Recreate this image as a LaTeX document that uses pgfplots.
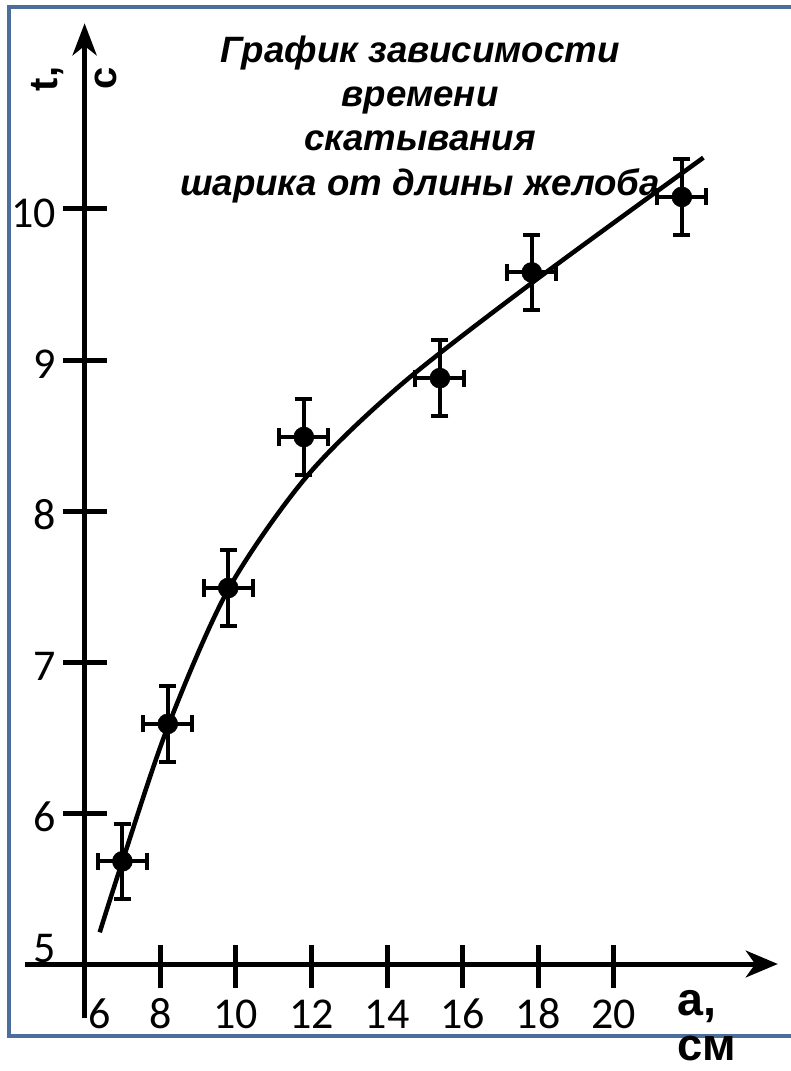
\documentclass[border=0pt]{standalone}
\usepackage{fontspec}
\setmainfont{Liberation Sans}
\newfontfamily\calib{Carlito}
\usepackage{pgfplots}
\pgfplotsset{compat=1.18}
\usetikzlibrary{arrows.meta}
\definecolor{frameblue}{RGB}{75,110,155}
\begin{document}
\begin{tikzpicture}
\useasboundingbox (0pt,0pt) rectangle (592.5pt,-803.25pt);
\begin{scope}[x=0.75pt,y=-0.75pt]
\draw[frameblue, line width=3.5pt] (9,7) rectangle (830,1036);
\tikzset{ttl/.style={anchor=base, inner sep=0pt, font=\bfseries\itshape\fontsize{27.5pt}{30pt}\selectfont}}
\node[ttl] at (420,62) {График зависимости};
\node[ttl] at (420,106) {времени};
\node[ttl] at (420,150) {скатывания};
\node[ttl] at (420,195) {шарика от длины желоба};
\node[rotate=90, inner sep=0pt, font=\bfseries\fontsize{30pt}{34pt}\selectfont] at (48,79) {t,};
\node[rotate=90, inner sep=0pt, font=\bfseries\fontsize{30pt}{34pt}\selectfont] at (106,78) {с};
\node[anchor=base west, inner sep=0pt, font=\bfseries\fontsize{35pt}{40pt}\selectfont] at (677,1015) {a,};
\node[anchor=base west, inner sep=0pt, font=\bfseries\fontsize{34pt}{40pt}\selectfont] at (677,1060) {см};
\end{scope}
\begin{axis}[at={(6.75pt,-779.625pt)}, anchor=south west,
  x=28.35pt, y=113.25pt, xmin=4, xmax=25, ymin=4.5, ymax=11.4,
  hide axis, clip=false]
% axes
\draw[line width=3.75pt, -{Stealth[length=24pt,width=20pt,inset=7pt]}] (axis cs:4.42,5) -- (axis cs:24.34,5);
\draw[line width=3.75pt, -{Stealth[length=24pt,width=18pt,inset=7pt]}] (axis cs:6,4.64) -- (axis cs:6,11.23);
\pgfplotsinvokeforeach{8,10,...,20}{
  \draw[line width=3.75pt] (axis cs:#1,4.84) -- (axis cs:#1,5.126);
  \node[anchor=base, inner sep=0pt, font=\calib\fontsize{33pt}{36pt}\selectfont] at (axis cs:#1,4.576) {#1};
}
\node[anchor=base, inner sep=0pt, font=\calib\fontsize{33pt}{36pt}\selectfont] at (axis cs:6.41,4.576) {6};
\pgfplotsinvokeforeach{6,7,8,9,10}{
  \draw[line width=3.75pt] (axis cs:5.43,#1) -- (axis cs:6.59,#1);
  \node[anchor=east, inner sep=0pt, yshift=-3pt, font=\calib\fontsize{33pt}{36pt}\selectfont] at (axis cs:5.25,#1) {#1};
}
\node[anchor=base east, inner sep=0pt, font=\calib\fontsize{33pt}{36pt}\selectfont] at (axis cs:5.25,5.013) {5};
% fitted curve
\addplot[line width=3.4pt, smooth, no marks] coordinates {
  (6.4,5.21) (7.0,5.68) (8.2,6.57) (9.8,7.48)
  (11.88,8.23) (14.34,8.83) (17.83,9.51) (22.37,10.34)
};
% data with error bars
\addplot[only marks, mark=*, mark size=7.5pt, black,
  error bars/.cd, x dir=both, x explicit, y dir=both, y explicit,
  error mark=|,
  error bar style={line width=3pt, black},
  error mark options={line width=3pt, mark size=6.4pt, black}]
  coordinates {
  (7.0,5.68) +- (0.65,0.25)
  (8.2,6.59) +- (0.65,0.25)
  (9.8,7.49) +- (0.65,0.25)
  (11.8,8.49) +- (0.65,0.25)
  (15.4,8.88) +- (0.65,0.25)
  (17.83,9.58) +- (0.65,0.25)
  (21.8,10.08) +- (0.65,0.25)
};
\end{axis}
\end{tikzpicture}
\end{document}
